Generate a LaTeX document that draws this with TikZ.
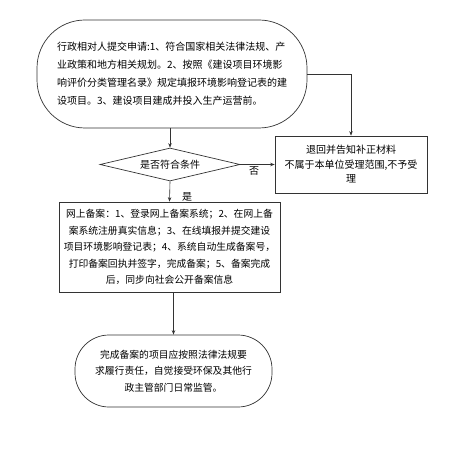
\documentclass[tikz,border=0pt]{standalone}
\usepackage{fontspec}
\setmainfont{Noto Sans CJK SC}
\usetikzlibrary{shapes.geometric,arrows.meta}
\tikzset{
  box/.style={draw=black!80, line width=0.7pt, inner sep=0pt, align=center},
  conn/.style={draw=black!80, line width=0.6pt, -{Stealth[length=4.5pt,width=3.5pt]}},
  lbl/.style={font=\fontsize{10}{12}\selectfont, inner sep=0pt}
}
\begin{document}
\begin{tikzpicture}[x=1pt,y=-1pt]
\useasboundingbox (0,0) rectangle (448,449);
\fill[white] (0,0) rectangle (448,449);
\node[box, rounded corners=48pt, minimum width=270pt, minimum height=108pt, align=left,
  font=\fontsize{10}{18}\selectfont] (top) at (172,74)
  {行政相对人提交申请:1、符合国家相关法律法规、产\\
   业政策和地方相关规划。2、按照《建设项目环境影\\
   响评价分类管理名录》规定填报环境影响登记表的建\\
   设项目。3、建设项目建成并投入生产运营前。};
\node[box, diamond, aspect=4.24, minimum width=140pt, minimum height=33pt,
  font=\fontsize{10}{12}\selectfont] (dia) at (170,164.5) {是否符合条件};
\node[box, minimum width=152pt, minimum height=57pt,
  font=\fontsize{10}{14.5}\selectfont] (rej) at (351,164.5)
  {退回并告知补正材料\\不属于本单位受理范围,不予受\\理};
\node[box, minimum width=221pt, minimum height=90pt,
  font=\fontsize{9.8}{16.5}\selectfont] (fil) at (169.5,247)
  {网上备案：1、登录网上备案系统；2、在网上备\\
   案系统注册真实信息；3、在线填报并提交建设\\
   项目环境影响登记表；4、系统自动生成备案号，\\
   打印备案回执并签字，完成备案；5、备案完成\\
   后，同步向社会公开备案信息};
\node[box, rounded corners=34pt, minimum width=197pt, minimum height=72pt,
  font=\fontsize{9.8}{16.5}\selectfont] (fin) at (173.5,371)
  {完成备案的项目应按照法律法规要\\
   求履行责任，自觉接受环保及其他行\\
   政主管部门日常监管。};
\draw[conn] (dia.north |- top.south) -- (dia.north);
\draw[conn] (top.east) -| (rej.north);
\draw[conn] (dia.east) -- (rej.west);
\node[lbl] (no) at (254,171) {否};
\draw[conn] (dia.south) -- (fil.north);
\node[lbl] (yes) at (187,197) {是};
\draw[conn] (fin.north |- fil.south) -- (fin.north);
\end{tikzpicture}
\end{document}
